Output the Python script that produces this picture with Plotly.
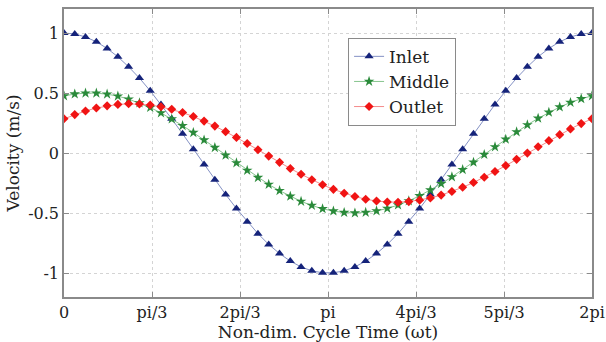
import plotly.graph_objects as go

# Sample times over one cycle (rad)
omega_t = [0.000, 0.128, 0.256, 0.385, 0.513, 0.641, 0.769, 0.898, 1.026, 1.154,
           1.282, 1.411, 1.539, 1.667, 1.795, 1.923, 2.052, 2.180, 2.308, 2.436,
           2.565, 2.693, 2.821, 2.949, 3.077, 3.206, 3.334, 3.462, 3.590, 3.719,
           3.847, 3.975, 4.103, 4.232, 4.360, 4.488, 4.616, 4.744, 4.873, 5.001,
           5.129, 5.257, 5.386, 5.514, 5.642, 5.770, 5.899, 6.027, 6.155, 6.283]

inlet = [1.000, 0.992, 0.967, 0.927, 0.871, 0.802, 0.718, 0.624, 0.518, 0.405,
         0.285, 0.160, 0.032, -0.096, -0.223, -0.345, -0.463, -0.572, -0.672, -0.762,
         -0.838, -0.901, -0.949, -0.982, -0.998, -0.998, -0.982, -0.949, -0.901, -0.838,
         -0.762, -0.672, -0.572, -0.463, -0.345, -0.223, -0.096, 0.032, 0.160, 0.285,
         0.405, 0.518, 0.624, 0.718, 0.802, 0.871, 0.927, 0.967, 0.992, 1.000]

middle = [0.476, 0.491, 0.499, 0.499, 0.490, 0.474, 0.449, 0.417, 0.379, 0.334,
          0.283, 0.228, 0.170, 0.108, 0.045, -0.019, -0.083, -0.145, -0.205, -0.262,
          -0.314, -0.361, -0.403, -0.437, -0.465, -0.484, -0.496, -0.500, -0.495, -0.483,
          -0.462, -0.434, -0.399, -0.357, -0.309, -0.256, -0.199, -0.139, -0.077, -0.013,
          0.051, 0.114, 0.176, 0.234, 0.289, 0.339, 0.383, 0.421, 0.452, 0.476]

outlet = [0.285, 0.320, 0.350, 0.375, 0.393, 0.405, 0.410, 0.408, 0.400, 0.385,
          0.364, 0.337, 0.304, 0.266, 0.224, 0.178, 0.130, 0.079, 0.027, -0.026,
          -0.078, -0.129, -0.177, -0.223, -0.265, -0.303, -0.336, -0.363, -0.385, -0.400,
          -0.408, -0.410, -0.405, -0.393, -0.375, -0.351, -0.321, -0.286, -0.246, -0.202,
          -0.154, -0.105, -0.053, -0.001, 0.052, 0.103, 0.153, 0.201, 0.245, 0.285]

x_tick_vals = [0.0, 1.0472, 2.0944, 3.1416, 4.1888, 5.2360, 6.2832]
x_tick_text = ["0", "pi/3", "2pi/3", "pi", "4pi/3", "5pi/3", "2pi"]
y_tick_vals = [-1, -0.5, 0, 0.5, 1]
y_tick_text = ["-1", "-0.5", "0", "0.5", "1"]

FONT = "DejaVu Serif"
TXT = "#222222"
TICK_SIZE = 16
TITLE_SIZE = 17

fig = go.Figure()
series = [
    ("Inlet", inlet, "triangle-up", 8, "#15237a", "#8491c4"),
    ("Middle", middle, "star", 8, "#2a8a3a", "#86c48e"),
    ("Outlet", outlet, "diamond", 7, "#f01414", "#f58a8a"),
]
for name, vals, sym, size, mcol, lcol in series:
    fig.add_trace(go.Scatter(
        x=omega_t, y=vals, name=name, mode="lines+markers",
        line=dict(color=lcol, width=1),
        marker=dict(symbol=sym, size=size, color=mcol, line=dict(width=0)),
    ))

axis_common = dict(
    showline=True, linecolor="#8a8a8a", linewidth=1.5, mirror="ticks",
    ticks="inside", ticklen=5, tickcolor="#8a8a8a",
    showgrid=True, gridcolor="#d4d4d4", griddash="dot", gridwidth=1,
    zeroline=False,
    tickfont=dict(family=FONT, size=TICK_SIZE, color=TXT),
)

fig.update_xaxes(
    range=[0, 6.2832], tickmode="array", tickvals=x_tick_vals, ticktext=x_tick_text,
    title=dict(text="Non-dim. Cycle Time (ωt)", font=dict(family=FONT, size=TITLE_SIZE, color=TXT),
               standoff=0),
    **axis_common,
)
fig.update_yaxes(
    range=[-1.2, 1.2], tickmode="array", tickvals=y_tick_vals, ticktext=y_tick_text,
    title=dict(text="Velocity (m/s)", font=dict(family=FONT, size=TITLE_SIZE, color=TXT),
               standoff=4),
    **axis_common,
)

fig.update_layout(
    width=606, height=342,
    margin=dict(l=64, r=14, t=9, b=45, autoexpand=False),
    paper_bgcolor="white", plot_bgcolor="white",
    font=dict(family=FONT, color=TXT),
    showlegend=True,
    legend=dict(
        x=0.538, y=0.9, xanchor="left", yanchor="top",
        bgcolor="white", bordercolor="#8a8a8a", borderwidth=1,
        font=dict(family=FONT, size=TITLE_SIZE, color=TXT),
        tracegroupgap=0, itemwidth=30,
    ),
)

fig.write_html("out.html")
